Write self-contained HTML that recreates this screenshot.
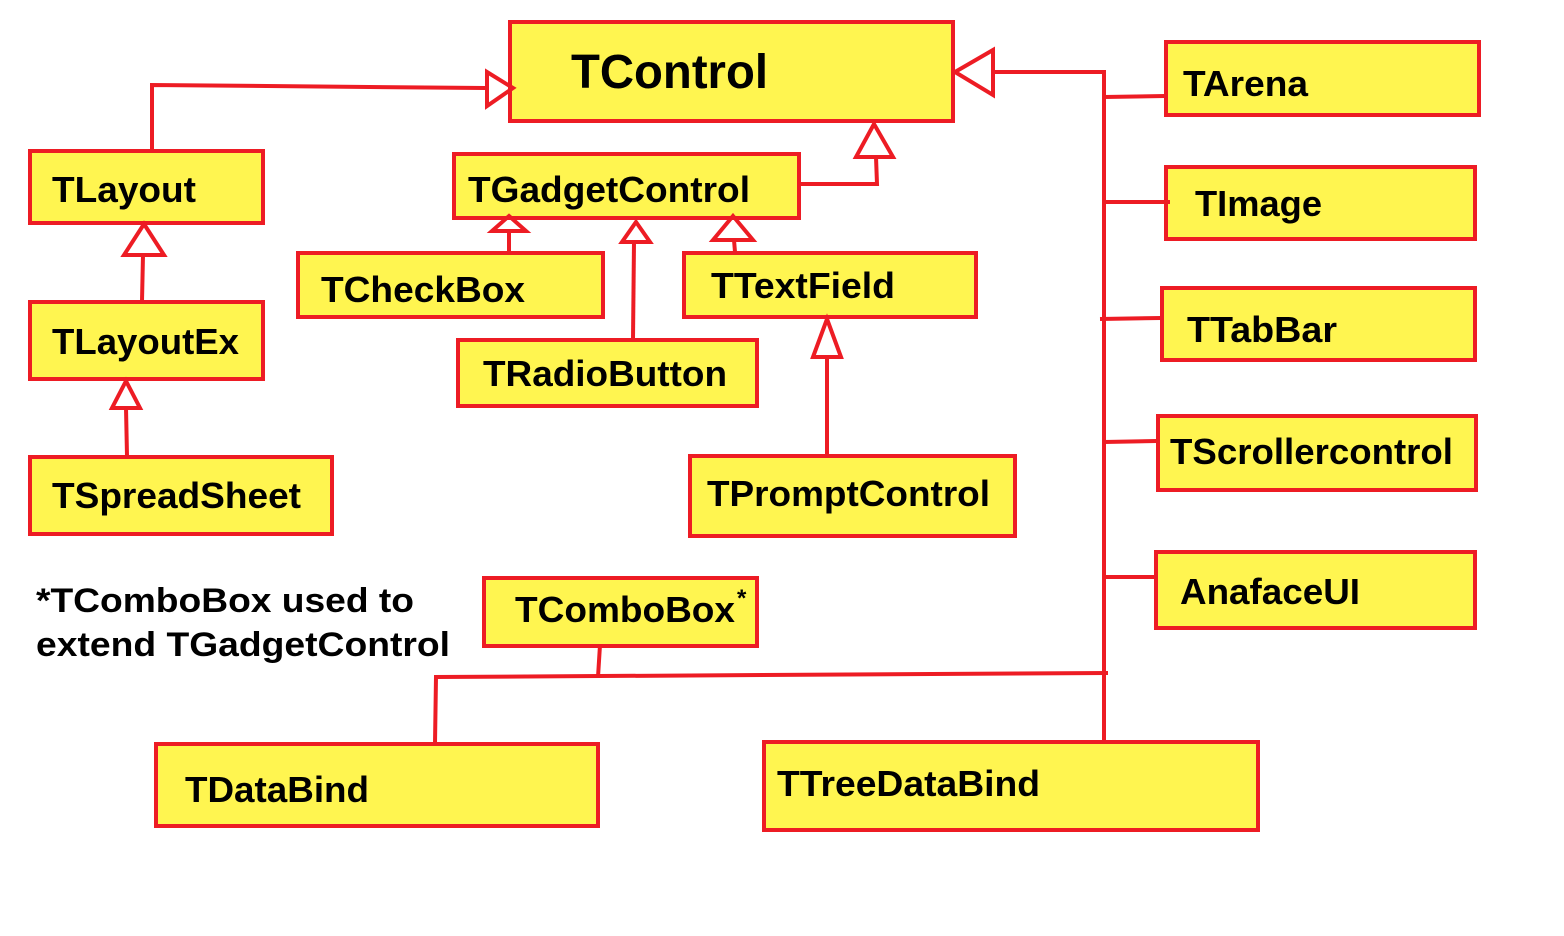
<!DOCTYPE html>
<html><head><style>
html,body{margin:0;padding:0;background:#fff;}
svg{display:block}
text{font-family:"Liberation Sans",Arial,sans-serif;font-weight:bold;fill:#000}
</style></head><body>
<svg width="1564" height="936" viewBox="0 0 1564 936" xmlns="http://www.w3.org/2000/svg">
<g fill="#FFF550" stroke="#ED1C24" stroke-width="4">
<rect x="510" y="22" width="443" height="99"/>
<rect x="1166" y="42" width="313" height="73"/>
<rect x="1166" y="167" width="309" height="72"/>
<rect x="1162" y="288" width="313" height="72"/>
<rect x="1158" y="416" width="318" height="74"/>
<rect x="1156" y="552" width="319" height="76"/>
<rect x="30" y="151" width="233" height="72"/>
<rect x="30" y="302" width="233" height="77"/>
<rect x="30" y="457" width="302" height="77"/>
<rect x="454" y="154" width="345" height="64"/>
<rect x="298" y="253" width="305" height="64"/>
<rect x="684" y="253" width="292" height="64"/>
<rect x="458" y="340" width="299" height="66"/>
<rect x="690" y="456" width="325" height="80"/>
<rect x="484" y="578" width="273" height="68"/>
<rect x="156" y="744" width="442" height="82"/>
<rect x="764" y="742" width="494" height="88"/>
</g>
<g fill="none" stroke="#ED1C24" stroke-width="4">
<polyline points="152,150 152,85 485,88"/>
<polygon points="487,72 513,88 487,106"/>
<polygon points="955,72 993,50 993,95"/>
<polyline points="993,72 1104,72 1104,741"/>
<line x1="1104" y1="97" x2="1165" y2="96"/>
<line x1="1104" y1="202" x2="1170" y2="202"/>
<line x1="1100" y1="319" x2="1161" y2="318"/>
<line x1="1104" y1="442" x2="1157" y2="441"/>
<line x1="1104" y1="577" x2="1155" y2="577"/>
<polyline points="435,743 436,677 1108,673"/>
<line x1="600" y1="645" x2="598" y2="677"/>
<polyline points="800,184 877,184 876,157"/>
<polygon points="874,124 893,157 856,157"/>
<line x1="509" y1="252" x2="509" y2="231"/>
<polygon points="509,216 526,231 492,231"/>
<line x1="633" y1="339" x2="634" y2="242"/>
<polygon points="636,222 650,242 622,242"/>
<line x1="735" y1="252" x2="734" y2="240"/>
<polygon points="733,216 753,240 713,240"/>
<line x1="827" y1="455" x2="827" y2="357"/>
<polygon points="827,319 841,357 813,357"/>
<line x1="142" y1="301" x2="143" y2="255"/>
<polygon points="144,224 164,255 124,255"/>
<line x1="127" y1="456" x2="126" y2="408"/>
<polygon points="126,381 140,408 112,408"/>
</g>
<g lengthAdjust="spacingAndGlyphs">
<text x="571" y="88" font-size="48" textLength="197" lengthAdjust="spacingAndGlyphs">TControl</text>
<text x="1183" y="96" font-size="36" textLength="125" lengthAdjust="spacingAndGlyphs">TArena</text>
<text x="1195" y="216" font-size="36" textLength="127" lengthAdjust="spacingAndGlyphs">TImage</text>
<text x="1187" y="342" font-size="36" textLength="150" lengthAdjust="spacingAndGlyphs">TTabBar</text>
<text x="1170" y="464" font-size="36" textLength="283" lengthAdjust="spacingAndGlyphs">TScrollercontrol</text>
<text x="1180" y="604" font-size="36" textLength="180" lengthAdjust="spacingAndGlyphs">AnafaceUI</text>
<text x="52" y="202" font-size="36" textLength="144" lengthAdjust="spacingAndGlyphs">TLayout</text>
<text x="52" y="354" font-size="36" textLength="187" lengthAdjust="spacingAndGlyphs">TLayoutEx</text>
<text x="52" y="508" font-size="36" textLength="249" lengthAdjust="spacingAndGlyphs">TSpreadSheet</text>
<text x="468" y="202" font-size="36" textLength="282" lengthAdjust="spacingAndGlyphs">TGadgetControl</text>
<text x="321" y="302" font-size="36" textLength="204" lengthAdjust="spacingAndGlyphs">TCheckBox</text>
<text x="711" y="298" font-size="36" textLength="184" lengthAdjust="spacingAndGlyphs">TTextField</text>
<text x="483" y="386" font-size="36" textLength="244" lengthAdjust="spacingAndGlyphs">TRadioButton</text>
<text x="707" y="506" font-size="36" textLength="283" lengthAdjust="spacingAndGlyphs">TPromptControl</text>
<text x="515" y="622" font-size="36" textLength="220" lengthAdjust="spacingAndGlyphs">TComboBox</text>
<text x="737" y="606" font-size="24">*</text>
<text x="185" y="802" font-size="36" textLength="184" lengthAdjust="spacingAndGlyphs">TDataBind</text>
<text x="777" y="796" font-size="36" textLength="263" lengthAdjust="spacingAndGlyphs">TTreeDataBind</text>
<text x="36" y="612" font-size="34" textLength="378" lengthAdjust="spacingAndGlyphs">*TComboBox used to</text>
<text x="36" y="656" font-size="34" textLength="414" lengthAdjust="spacingAndGlyphs">extend TGadgetControl</text>
</g>
</svg>
</body></html>
